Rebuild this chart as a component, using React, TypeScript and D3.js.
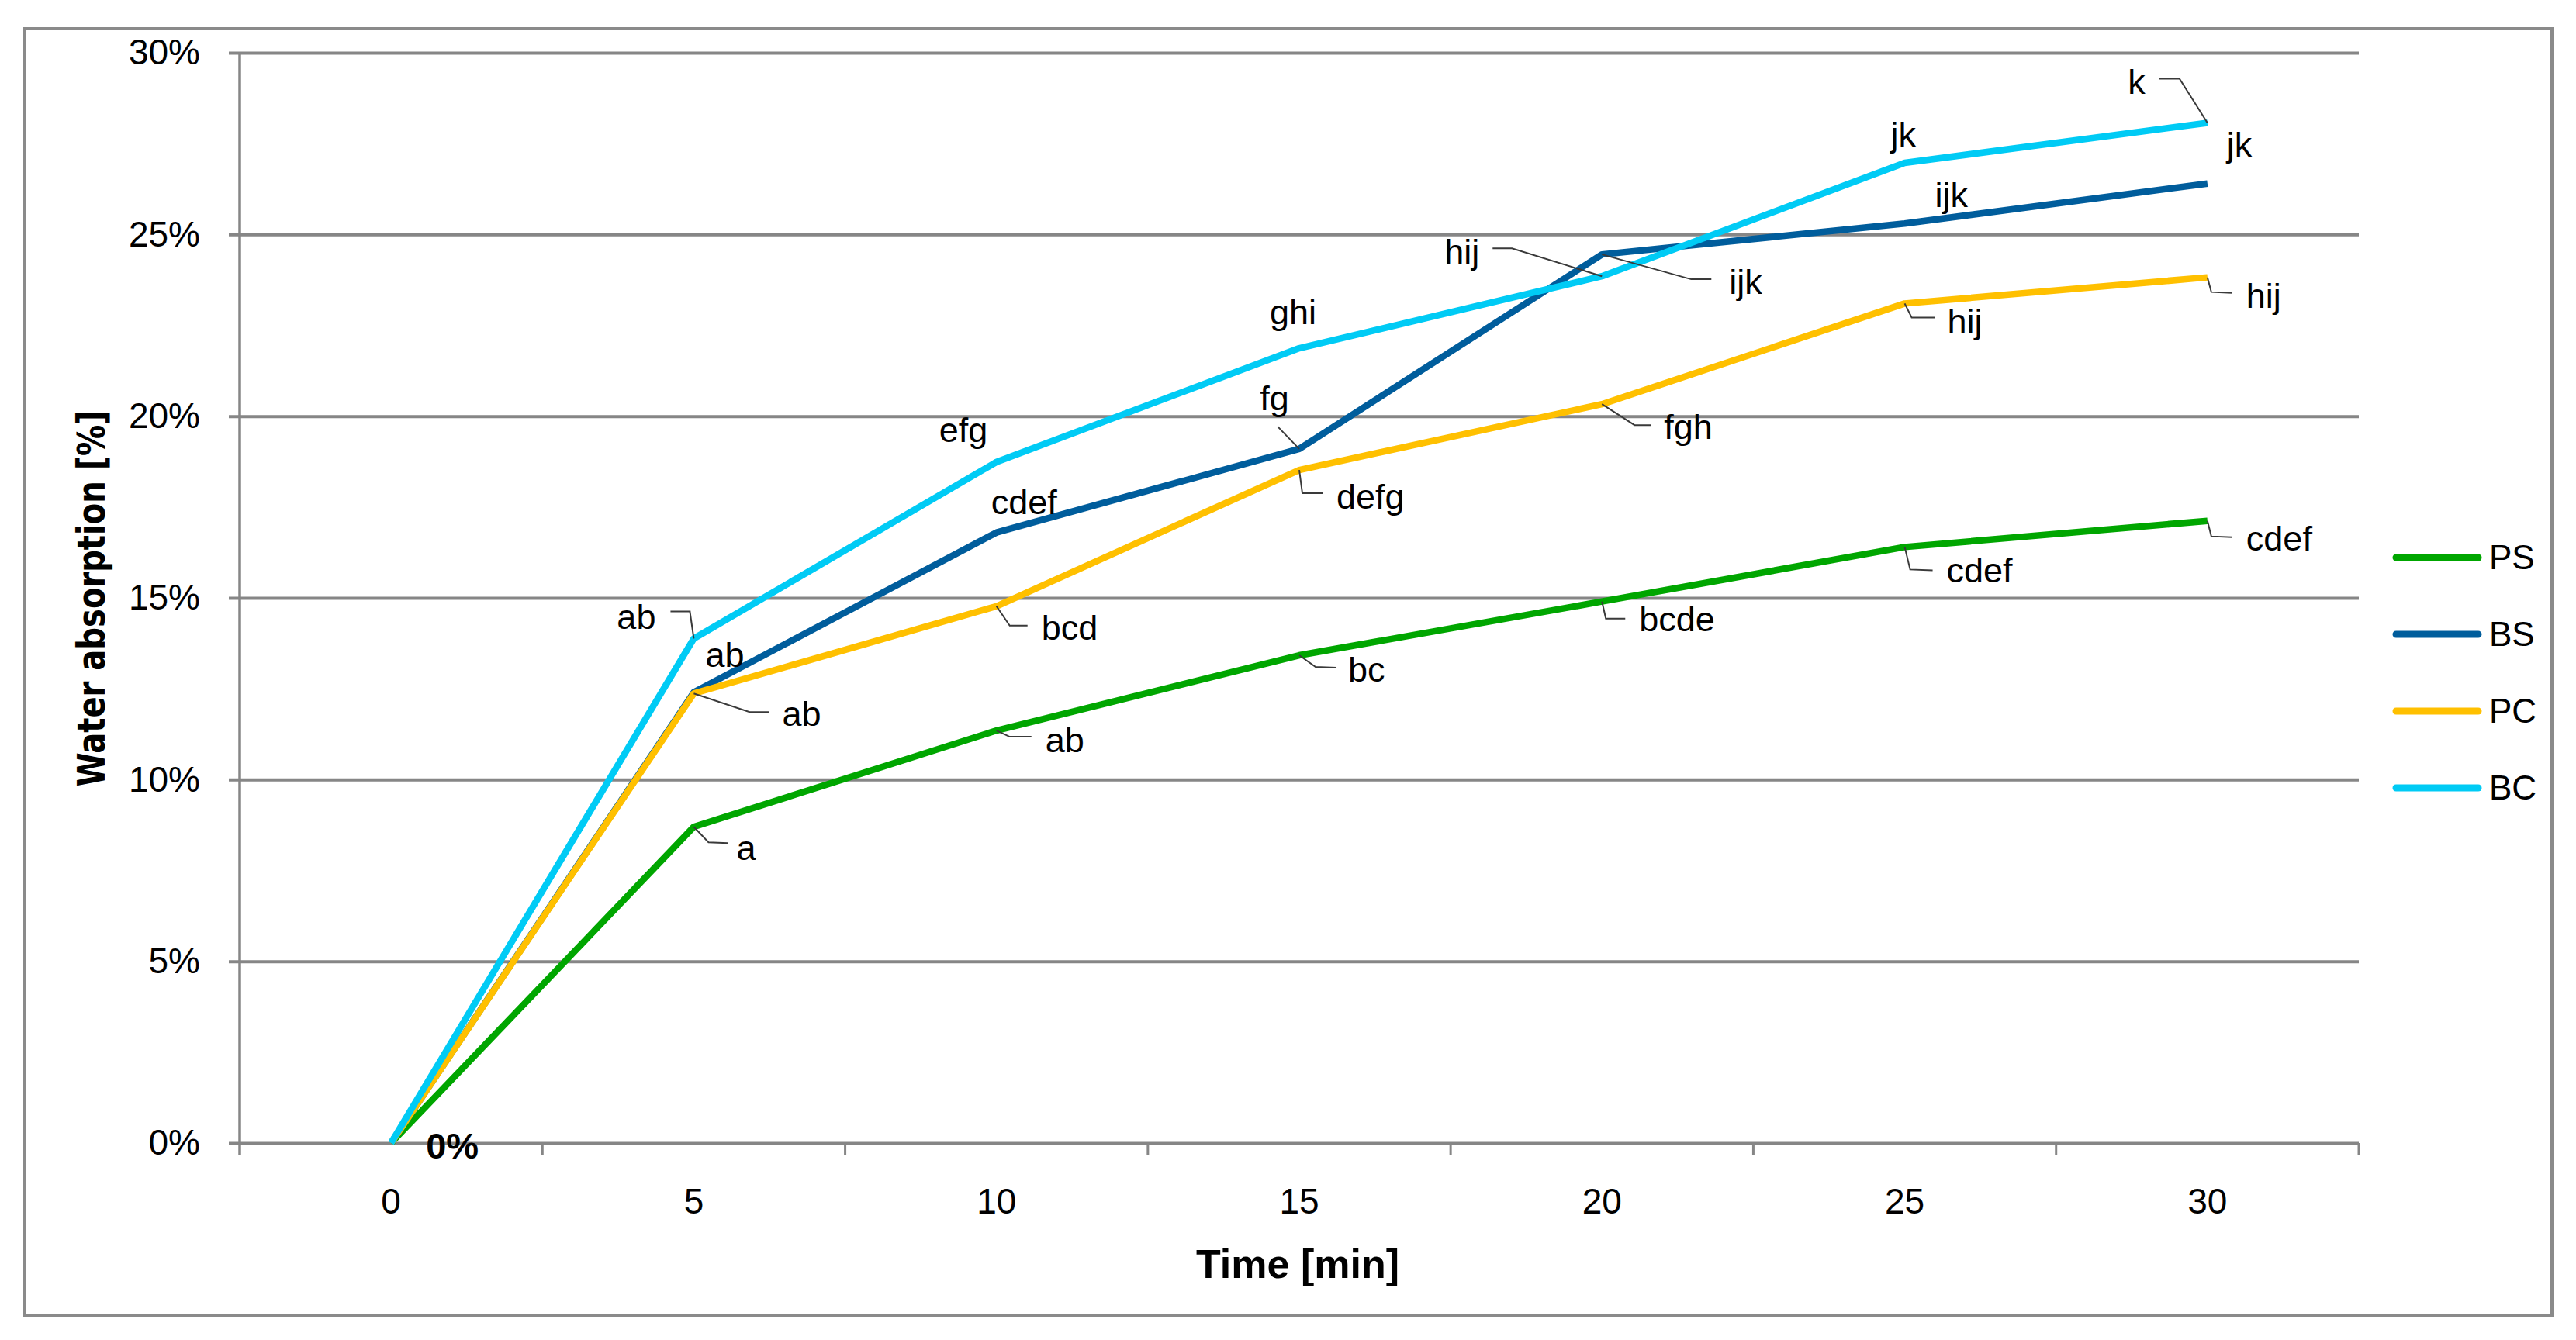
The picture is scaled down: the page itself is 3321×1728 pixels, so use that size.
import * as d3 from 'd3'
import React from 'react'

// data (water absorption in %)
const times = ['0', '5', '10', '15', '20', '25', '30']
const seriesNames = ['PS', 'BS', 'PC', 'BC']

const psValues = [0, 8.7, 11.35, 13.42, 14.9, 16.4, 17.12]
const bsValues = [0, 12.4, 16.8, 19.1, 24.45, 25.3, 26.4]
const pcValues = [0, 12.37, 14.77, 18.52, 20.33, 23.1, 23.82]
const bcValues = [0, 13.88, 18.74, 21.87, 23.85, 26.97, 28.07]

// letters of the statistical groups, one per point
const psLabels = ['0%', 'a', 'ab', 'bc', 'bcde', 'cdef', 'cdef']
const bsLabels = ['', 'ab', 'cdef', 'fg', 'ijk', 'ijk', 'jk']
const pcLabels = ['', 'ab', 'bcd', 'defg', 'fgh', 'hij', 'hij']
const bcLabels = ['', 'ab', 'efg', 'ghi', 'hij', 'jk', 'k']

const yTicks = [0, 5, 10, 15, 20, 25, 30]

const colors = ['#00a600', '#005d9c', '#ffc000', '#00cbf5']

const W = 3321
const H = 1728
const plot = { left: 309, right: 3041, top: 68, bottom: 1474 }
const font = '"Liberation Sans", Arial, sans-serif'

// label placement relative to its point: text offset + optional leader polyline
type Placement = { dx: number; dy: number; anchor?: string; bold?: boolean; leader?: [number, number][] }
const labelLayout: (Placement | null)[][] = [
    [
        { dx: 45, dy: 4, bold: true },
        { dx: 55, dy: 28, leader: [[0, 0], [19, 20], [44, 21]] },
        { dx: 63, dy: 13, leader: [[0, 0], [17, 8], [45, 8]] },
        { dx: 63, dy: 19, leader: [[0, 0], [21, 15], [48, 16]] },
        { dx: 48, dy: 23, leader: [[0, 0], [5, 22], [30, 22]] },
        { dx: 54, dy: 31, leader: [[0, 0], [7, 29], [36, 30]] },
        { dx: 50, dy: 24, leader: [[0, 0], [5, 20], [32, 21]] },
    ],
    [
        null,
        { dx: 15, dy: -48 },
        { dx: -7, dy: -38 },
        { dx: -32, dy: -65, anchor: 'middle', leader: [[0, 0], [-28, -29]] },
        { dx: 164, dy: 36, leader: [[0, 0], [115, 32], [141, 32]] },
        { dx: 39, dy: -36 },
        { dx: 25, dy: -50 },
    ],
    [
        null,
        { dx: 114, dy: 27, leader: [[0, 0], [72, 24], [97, 24]] },
        { dx: 58, dy: 28, leader: [[0, 0], [17, 25], [40, 25]] },
        { dx: 48, dy: 35, leader: [[0, 0], [4, 30], [30, 30]] },
        { dx: 80, dy: 30, leader: [[0, 0], [42, 27], [63, 27]] },
        { dx: 55, dy: 24, leader: [[0, 0], [9, 18], [39, 18]] },
        { dx: 50, dy: 25, leader: [[0, 0], [5, 19], [32, 20]] },
    ],
    [
        null,
        { dx: -49, dy: -27, anchor: 'end', leader: [[0, 0], [-5, -35], [-30, -35]] },
        { dx: -74, dy: -41 },
        { dx: -38, dy: -46 },
        { dx: -158, dy: -31, anchor: 'end', leader: [[0, 0], [-116, -36], [-141, -36]] },
        { dx: -18, dy: -36 },
        { dx: -80, dy: -52, anchor: 'end', leader: [[0, 0], [-36, -57], [-62, -57]] },
    ],
]

export default function App() {
    const svgRef = React.useRef<SVGSVGElement | null>(null)

    React.useEffect(() => {
        document.body.style.margin = '0'
        const svg = d3.select(svgRef.current)
        svg.selectAll('*').remove()

        const allValues = [psValues, bsValues, pcValues, bcValues]
        const allLabels = [psLabels, bsLabels, pcLabels, bcLabels]

        const x = d3.scaleBand().domain(times).range([plot.left, plot.right]).padding(0)
        const y = d3.scaleLinear().domain([0, 30]).range([plot.bottom, plot.top])
        const cx = (t: string) => (x(t) || 0) + x.bandwidth() / 2

        svg.append('rect')
            .attr('width', W)
            .attr('height', H)
            .attr('fill', '#fff')

        // outer chart border
        svg.append('rect')
            .attr('x', 32)
            .attr('y', 37)
            .attr('width', 3258)
            .attr('height', 1659)
            .attr('fill', 'none')
            .attr('stroke', '#8a8a8a')
            .attr('stroke-width', 4)

        // gridlines + y labels
        const yAxis = svg
            .append('g')
            .attr('transform', `translate(${plot.left},0)`)
            .call(
                d3
                    .axisLeft(y)
                    .tickValues(yTicks)
                    .tickFormat((d) => d + '%')
                    .tickSize(14)
                    .tickPadding(37)
            )
        yAxis.select('.domain').remove()
        yAxis.selectAll('.tick line')
            .attr('x1', -14)
            .attr('x2', plot.right - plot.left)
            .attr('stroke', '#868686')
            .attr('stroke-width', 4)
        yAxis.selectAll('.tick text')
            .attr('font-family', font)
            .attr('font-size', 46)
            .attr('fill', '#000')

        svg.append('line')
            .attr('x1', plot.left)
            .attr('x2', plot.left)
            .attr('y1', plot.top)
            .attr('y2', plot.bottom + 16)
            .attr('stroke', '#868686')
            .attr('stroke-width', 3.5)

        // x ticks sit on the category boundaries
        const bounds = times.map((t) => x(t) || 0).concat([plot.right])
        svg.append('g')
            .selectAll('line')
            .data(bounds.slice(1))
            .join('line')
            .attr('x1', (d) => d)
            .attr('x2', (d) => d)
            .attr('y1', plot.bottom)
            .attr('y2', plot.bottom + 16)
            .attr('stroke', '#868686')
            .attr('stroke-width', 3)

        const xAxis = svg
            .append('g')
            .attr('transform', `translate(0,${plot.bottom})`)
            .call(d3.axisBottom(x).tickSize(0).tickPadding(58))
        xAxis.select('.domain').remove()
        xAxis.selectAll('.tick text')
            .attr('font-family', font)
            .attr('font-size', 46)
            .attr('fill', '#000')

        // axis titles
        svg.append('text')
            .attr('x', 1673)
            .attr('y', 1648)
            .attr('text-anchor', 'middle')
            .attr('font-family', font)
            .attr('font-weight', 'bold')
            .attr('font-size', 52)
            .text('Time [min]')

        svg.append('text')
            .attr('transform', 'translate(135,772) rotate(-90)')
            .attr('text-anchor', 'middle')
            .attr('font-family', '"DejaVu Sans", Verdana, sans-serif')
            .attr('font-weight', 'bold')
            .attr('font-size', 50)
            .attr('textLength', 485)
            .attr('lengthAdjust', 'spacingAndGlyphs')
            .text('Water absorption [%]')

        // series lines
        const line = d3
            .line<number>()
            .x((d, i) => cx(times[i]))
            .y((d) => y(d))

        svg.append('g')
            .selectAll('path')
            .data(allValues)
            .join('path')
            .attr('d', (d) => line(d))
            .attr('fill', 'none')
            .attr('stroke', (d, i) => colors[i])
            .attr('stroke-width', 8.5)
            .attr('stroke-linejoin', 'round')

        // data labels with leader lines
        const lbl = svg.append('g')
        allValues.forEach((vals, s) => {
            vals.forEach((v, i) => {
                const p = labelLayout[s][i]
                const text = allLabels[s][i]
                if (!p || !text) return
                const px = cx(times[i])
                const py = y(v)
                if (p.leader) {
                    lbl.append('polyline')
                        .attr('points', p.leader.map(([a, b]) => `${px + a},${py + b}`).join(' '))
                        .attr('fill', 'none')
                        .attr('stroke', '#3a3a3a')
                        .attr('stroke-width', 2)
                }
                lbl.append('text')
                    .attr('x', px + p.dx)
                    .attr('y', py + p.dy)
                    .attr('dy', '0.33em')
                    .attr('text-anchor', p.anchor || 'start')
                    .attr('font-family', font)
                    .attr('font-weight', p.bold ? 'bold' : 'normal')
                    .attr('font-size', p.bold ? 47 : 45)
                    .attr('fill', '#000')
                    .text(text)
            })
        })

        // legend
        const legend = svg
            .append('g')
            .selectAll('g')
            .data(seriesNames)
            .join('g')
            .attr('transform', (d, i) => `translate(3089,${719 + i * 99})`)
        legend.append('line')
            .attr('x1', 0)
            .attr('x2', 106)
            .attr('stroke', (d, i) => colors[i])
            .attr('stroke-width', 9)
            .attr('stroke-linecap', 'round')
        legend.append('text')
            .attr('x', 120)
            .attr('dy', '0.35em')
            .attr('font-family', font)
            .attr('font-size', 44)
            .attr('fill', '#000')
            .text((d) => d)
    }, [])

    return (
        <svg
            ref={svgRef}
            width={W}
            height={H}
            style={{ position: 'absolute', left: 0, top: 0, display: 'block' }}
        ></svg>
    )
}
